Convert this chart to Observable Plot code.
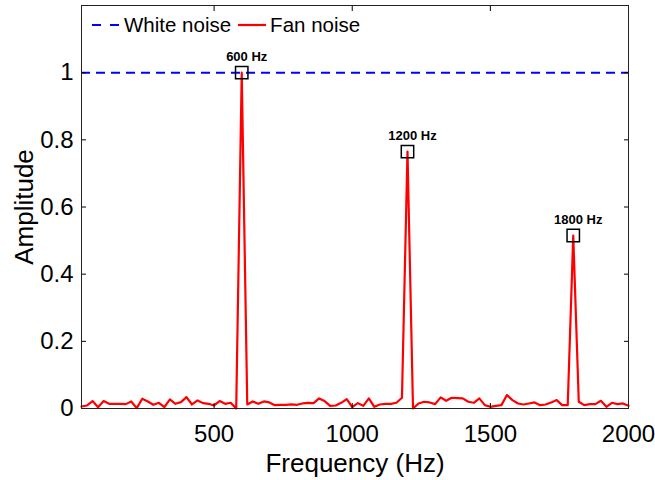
<!DOCTYPE html>
<html>
<head>
<meta charset="utf-8">
<script src="https://cdn.jsdelivr.net/npm/d3@7"></script>
<script src="https://cdn.jsdelivr.net/npm/@observablehq/plot@0.6"></script>
<style>
  body { margin: 0; background: #fff; }
  #chart { position: relative; width: 655px; height: 480px; font-family: "Liberation Sans", Arial, sans-serif; }
  #legend { position: absolute; left: 92px; top: 13px; display: flex; align-items: center; font-size: 20.5px; color: #000; white-space: nowrap; }
  #legend .item { display: flex; align-items: center; }
  #legend svg { display: block; margin-right: 4px; }
  #legend .item + .item { margin-left: 7px; }
</style>
</head>
<body>
<div id="chart"></div>
<script>
// Spectrum sampled every 20 Hz
const frequencies = [
  20, 40, 60, 80, 100, 120, 140, 160, 180, 200,
  220, 240, 260, 280, 300, 320, 340, 360, 380, 400,
  420, 440, 460, 480, 500, 520, 540, 560, 580, 600,
  620, 640, 660, 680, 700, 720, 740, 760, 780, 800,
  820, 840, 860, 880, 900, 920, 940, 960, 980, 1000,
  1020, 1040, 1060, 1080, 1100, 1120, 1140, 1160, 1180, 1200,
  1220, 1240, 1260, 1280, 1300, 1320, 1340, 1360, 1380, 1400,
  1420, 1440, 1460, 1480, 1500, 1520, 1540, 1560, 1580, 1600,
  1620, 1640, 1660, 1680, 1700, 1720, 1740, 1760, 1780, 1800,
  1820, 1840, 1860, 1880, 1900, 1920, 1940, 1960, 1980, 2000
];

// Fan noise amplitude at each frequency
const fanNoise = [
  0.006, 0.009, 0.022, 0.004, 0.022, 0.014, 0.014, 0.014, 0.013, 0.021,
  0.001, 0.029, 0.021, 0.011, 0.017, 0.004, 0.027, 0.014, 0.019, 0.034,
  0.012, 0.024, 0.016, 0.014, 0.009, 0.022, 0.014, 0.017, 0.000, 1.000,
  0.012, 0.021, 0.014, 0.021, 0.018, 0.010, 0.011, 0.011, 0.012, 0.011,
  0.015, 0.017, 0.016, 0.030, 0.022, 0.008, 0.009, 0.017, 0.028, 0.004,
  0.016, 0.008, 0.030, 0.005, 0.012, 0.014, 0.014, 0.017, 0.032, 0.765,
  0.000, 0.015, 0.020, 0.018, 0.013, 0.033, 0.023, 0.032, 0.031, 0.030,
  0.020, 0.017, 0.030, 0.010, 0.005, 0.008, 0.010, 0.040, 0.025, 0.015,
  0.012, 0.015, 0.018, 0.010, 0.012, 0.018, 0.025, 0.010, 0.010, 0.515,
  0.020, 0.010, 0.013, 0.013, 0.023, 0.005, 0.017, 0.013, 0.015, 0.008
];

// Flat white-noise spectrum level
const whiteNoiseLevel = 1;

// Harmonics that get a marker and a label
const peakFrequencies = [600, 1200, 1800];

const xTicks = [500, 1000, 1500, 2000];
const yTicks = [0, 0.2, 0.4, 0.6, 0.8, 1];
const xLabel = "Frequency (Hz)";
const yLabel = "Amplitude";

const series = frequencies.map((f, i) => ({f, a: fanNoise[i]}));
const peaks = peakFrequencies.map(f => ({f, a: fanNoise[frequencies.indexOf(f)]}));

const chart = Plot.plot({
  width: 655,
  height: 480,
  marginLeft: 81,
  marginRight: 27,
  marginTop: 5,
  marginBottom: 72,
  style: {fontFamily: "Liberation Sans, Arial, sans-serif", background: "#fff", color: "#000"},
  x: {domain: [20, 2000]},
  y: {domain: [0, 1.2]},
  marks: [
    Plot.ruleY([whiteNoiseLevel], {stroke: "#0000ff", strokeWidth: 2, strokeDasharray: "9,6"}),
    Plot.line(series, {x: "f", y: "a", stroke: "#ff0000", strokeWidth: 2.2}),
    Plot.dot(peaks, {x: "f", y: "a", symbol: "square", r: 7, stroke: "#000", strokeWidth: 1.5, fill: "none"}),
    Plot.text(peaks, {x: "f", y: "a", text: d => `${d.f} Hz`, dx: 5, dy: -12, lineAnchor: "bottom", fontWeight: "bold", fontSize: 13, fill: "#000"}),
    Plot.axisX(xTicks, {anchor: "bottom", tickSize: -5, tickPadding: 21, fontSize: 24, label: null, tickFormat: d => String(d)}),
    Plot.axisX(xTicks, {anchor: "top", tickSize: -5, tickFormat: () => "", label: null}),
    Plot.axisY(yTicks, {anchor: "left", tickSize: -5, tickPadding: 13, fontSize: 24, label: null, tickFormat: d => String(d)}),
    Plot.axisY(yTicks, {anchor: "right", tickSize: -5, tickFormat: () => "", label: null}),
    Plot.frame({stroke: "#222"}),
    Plot.text([xLabel], {text: d => d, frameAnchor: "bottom", dy: 63, lineAnchor: "bottom", fontSize: 26, fill: "#000"}),
    Plot.text([yLabel], {text: d => d, frameAnchor: "left", dx: -57, rotate: -90, textAnchor: "middle", lineAnchor: "middle", fontSize: 26, fill: "#000"})
  ]
});

const root = document.getElementById("chart");
root.appendChild(chart);

// Legend drawn over the upper-left corner of the plot area
const legend = document.createElement("div");
legend.id = "legend";
legend.innerHTML = `
  <div class="item">
    <svg width="28" height="6"><line x1="0" y1="3" x2="28" y2="3" stroke="#0000ff" stroke-width="2" stroke-dasharray="9,9"/></svg>
    <span>White noise</span>
  </div>
  <div class="item">
    <svg width="28" height="6"><line x1="0" y1="3" x2="28" y2="3" stroke="#ff0000" stroke-width="2.2"/></svg>
    <span>Fan noise</span>
  </div>`;
root.appendChild(legend);
</script>
</body>
</html>
